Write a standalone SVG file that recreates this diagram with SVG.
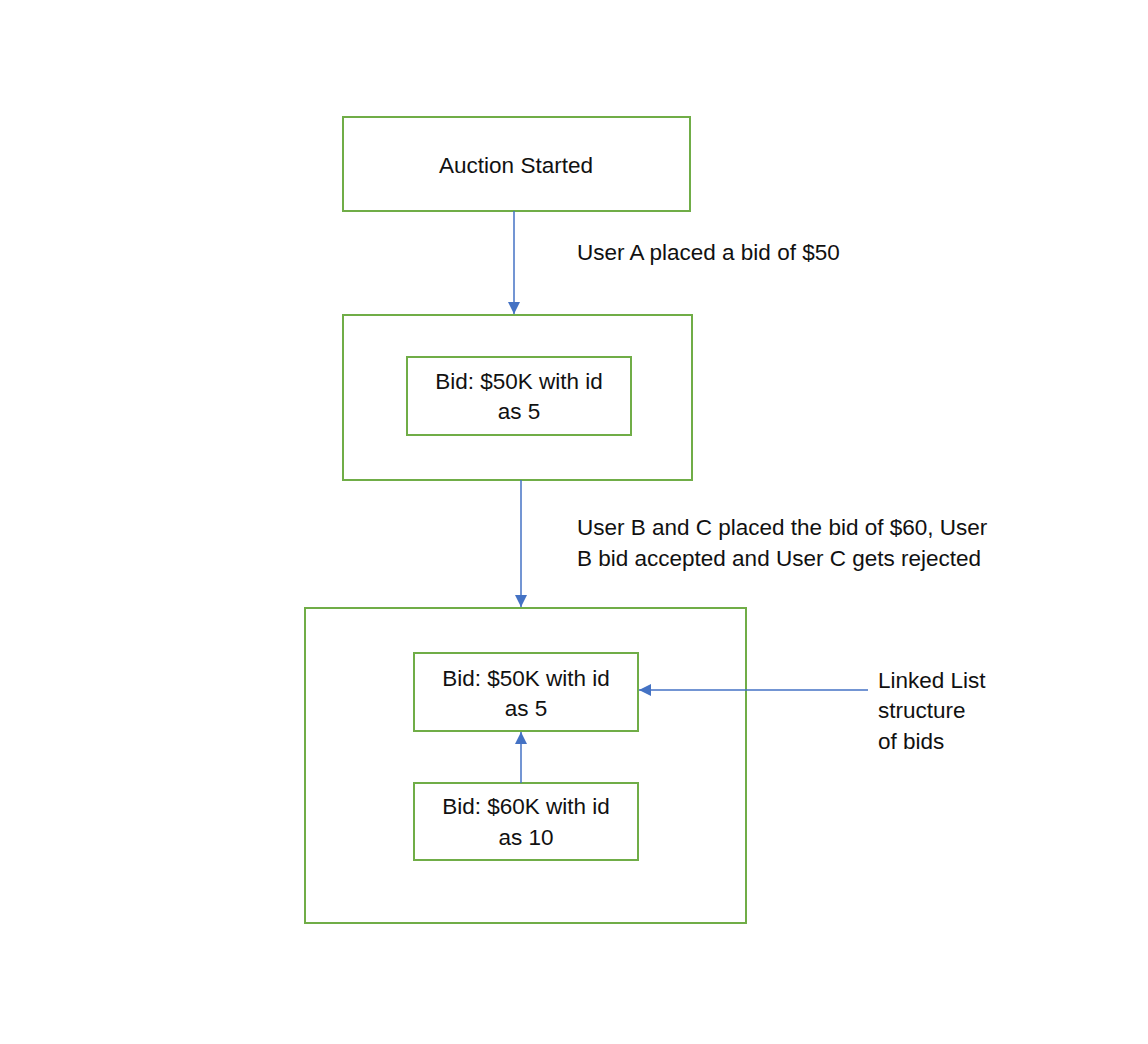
<svg xmlns="http://www.w3.org/2000/svg" width="1148" height="1044" viewBox="0 0 1148 1044">
<style>
.box{fill:#fff;stroke:#70AD47;stroke-width:2}
.t{font-family:"Liberation Sans",Arial,sans-serif;font-size:22.5px;fill:#111}
.c{text-anchor:middle}
.ln{stroke:#4472C4;stroke-width:1.5;fill:none}
</style>
<defs>
<marker id="ah" viewBox="0 0 10 10" refX="10" refY="5" markerWidth="12" markerHeight="12" markerUnits="userSpaceOnUse" orient="auto">
<path d="M0,0 L10,5 L0,10 z" fill="#4472C4"/>
</marker>
</defs>
<rect width="1148" height="1044" fill="#fff"/>
<g id="auction-started">
<rect class="box" x="343" y="117" width="347" height="94"/>
<text class="t c" x="516" y="173">Auction Started</text>
</g>
<g id="state1">
<rect class="box" x="343" y="315" width="349" height="165"/>
</g>
<g id="bid1">
<rect class="box" x="407" y="357" width="224" height="78"/>
<text class="t c" x="519" y="389">Bid: $50K with id</text>
<text class="t c" x="519" y="419">as 5</text>
</g>
<g id="state2">
<rect class="box" x="305" y="608" width="441" height="315"/>
</g>
<g id="bid2">
<rect class="box" x="414" y="653" width="224" height="78"/>
<text class="t c" x="526" y="686">Bid: $50K with id</text>
<text class="t c" x="526" y="716">as 5</text>
</g>
<g id="bid3">
<rect class="box" x="414" y="783" width="224" height="77"/>
<text class="t c" x="526" y="814">Bid: $60K with id</text>
<text class="t c" x="526" y="845">as 10</text>
</g>
<g id="labels">
<text class="t" x="577" y="260">User A placed a bid of $50</text>
<text class="t" x="577" y="535">User B and C placed the bid of $60, User</text>
<text class="t" x="577" y="566">B bid accepted and User C gets rejected</text>
<text class="t" x="878" y="688">Linked List</text>
<text class="t" x="878" y="718">structure</text>
<text class="t" x="878" y="749">of bids</text>
</g>
<g id="connectors">
<line class="ln" x1="514" y1="211" x2="514" y2="314" marker-end="url(#ah)"/>
<line class="ln" x1="521" y1="480" x2="521" y2="607" marker-end="url(#ah)"/>
<line class="ln" x1="521" y1="783" x2="521" y2="732" marker-end="url(#ah)"/>
<line class="ln" x1="868" y1="690" x2="639" y2="690" marker-end="url(#ah)"/>
</g>
</svg>
